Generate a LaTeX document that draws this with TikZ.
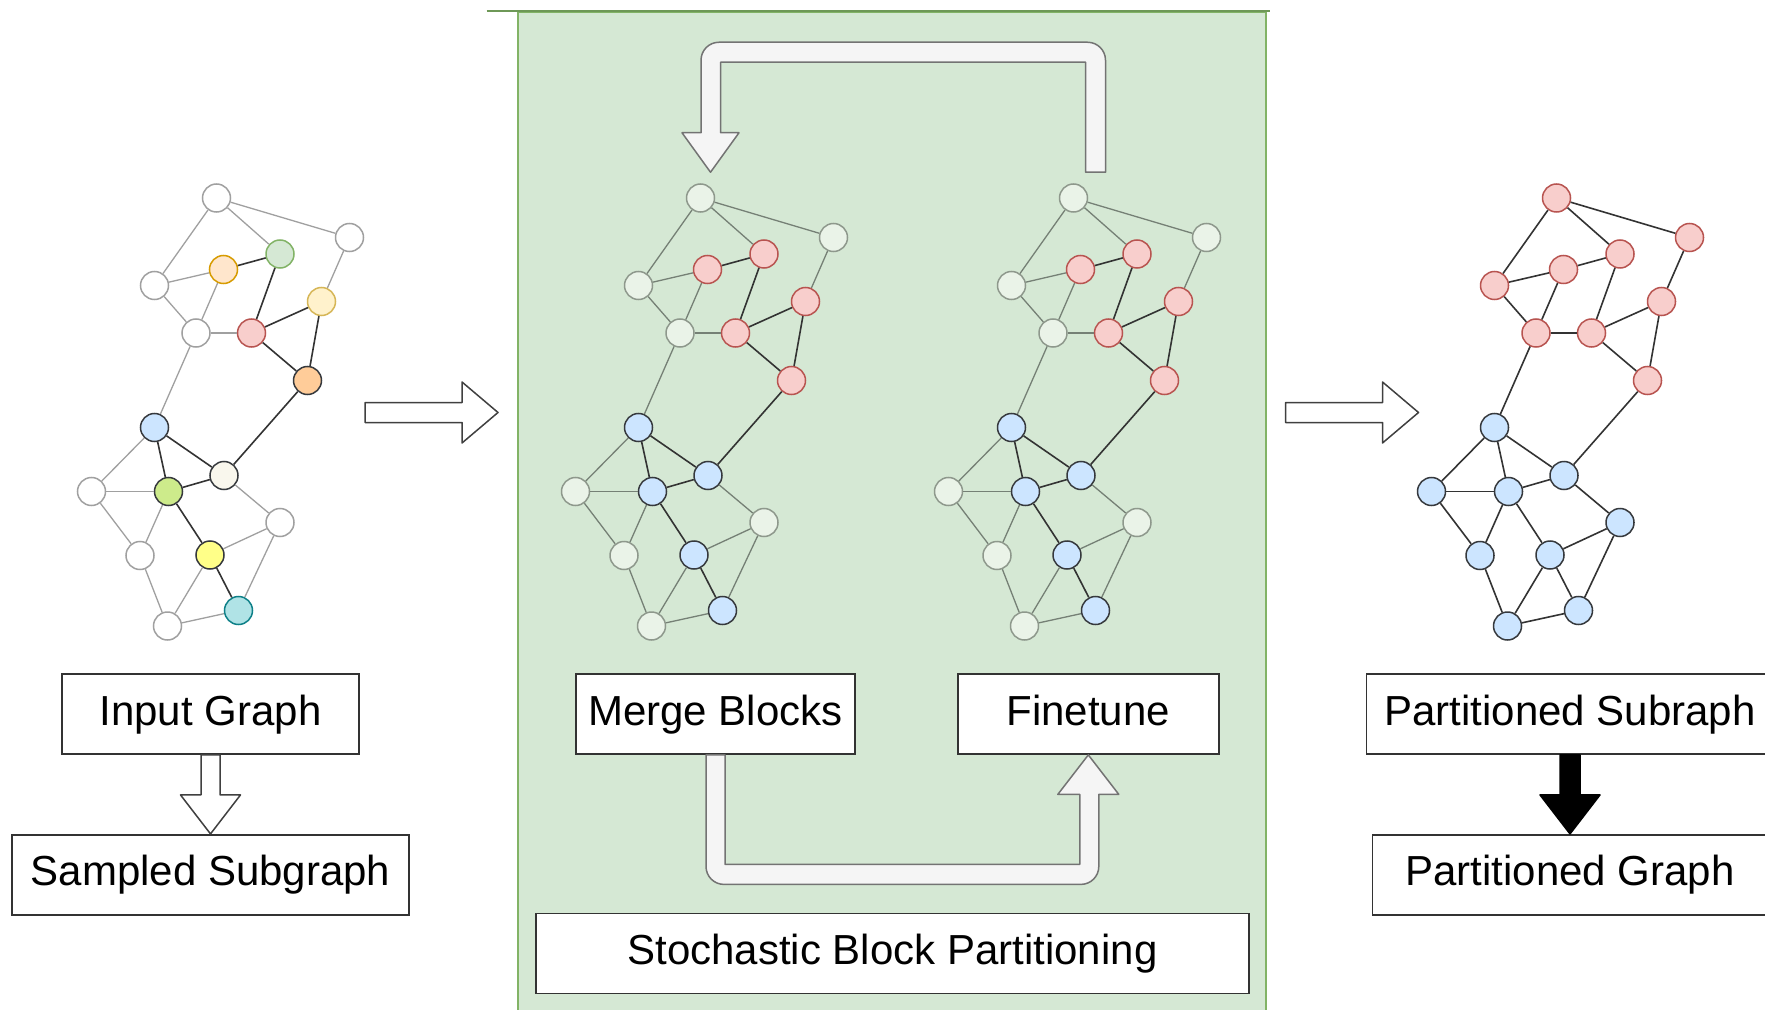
\documentclass[tikz,border=0pt]{standalone}
\usepackage{fontspec}
\setmainfont{Liberation Sans}
\usepackage{tikz}
\usetikzlibrary{arrows.meta, positioning, calc}

\definecolor{panelgreen}{HTML}{D5E8D4}
\definecolor{paneledge}{HTML}{82B366}
\definecolor{ringgray}{HTML}{A0A0A0}
\definecolor{mint}{HTML}{D5E8D4}
\definecolor{mintline}{HTML}{82B366}
\definecolor{peach}{HTML}{FFE6CC}
\definecolor{peachline}{HTML}{D79B00}
\definecolor{cream}{HTML}{FFF2CC}
\definecolor{creamline}{HTML}{D6B656}
\definecolor{apricot}{HTML}{FFCC99}
\definecolor{ivory}{HTML}{F9F7ED}
\definecolor{lime}{HTML}{CDEB8B}
\definecolor{lemon}{HTML}{FFFF88}
\definecolor{aqua}{HTML}{B0E3E6}
\definecolor{aqualine}{HTML}{0E8088}
% block colours: w = unassigned, r = upper block, b = lower block
\definecolor{fillw}{HTML}{EAF3E8}
\definecolor{linew}{HTML}{8E988C}
\definecolor{fillr}{HTML}{F8CECC}
\definecolor{liner}{HTML}{B85450}
\definecolor{fillb}{HTML}{CCE5FF}
\definecolor{lineb}{HTML}{36393D}

% name/x/y/block while merging/final block/input fill/input ring
\newcommand{\netnodes}{A/216.5/198/w/r/white/ringgray, B/349.5/237.5/w/r/white/ringgray,
  C/280/254/r/r/mint/mintline, D/223.5/269.5/r/r/peach/peachline,
  E/154.5/285.5/w/r/white/ringgray, F/321.5/301.5/r/r/cream/creamline,
  G/196/333/w/r/white/ringgray, H/251.5/333/r/r/fillr/liner,
  I/307.5/380.5/r/r/apricot/lineb, J/154.5/427.5/b/b/fillb/lineb,
  K/224/475.5/b/b/ivory/lineb, L/91.5/491.5/w/b/white/ringgray,
  M/168.5/491.5/b/b/lime/lineb, N/280/522.5/w/b/white/ringgray,
  O/140/555.5/w/b/white/ringgray, P/210/555/b/b/lemon/lineb,
  Q/238.5/610.5/b/b/aqua/aqualine, R/167.5/626/w/b/white/ringgray}
\newcommand{\lightlinks}{A/B, A/C, A/E, D/E, D/G, E/G, B/F, G/H, G/J, J/L, L/M, K/N, L/O, M/O, O/R, P/N, P/R, N/Q, R/Q}
\newcommand{\darklinks}{D/C, C/H, H/F, H/I, F/I, I/K, J/K, J/M, M/K, M/P, P/Q}

\begin{document}
\begin{tikzpicture}[
			x=0.5pt, y=-0.5pt,
			node distance=39.5pt,
			vertex/.style={circle, inner sep=0pt, minimum size=14pt, line width=0.75pt},
			stagebox/.style={rectangle, draw=black!80, fill=white, line width=0.9pt, minimum height=40pt, text height=15.5pt, text depth=4.5pt, align=center, font=\fontsize{21}{25}\selectfont},
			blockarrow/.style={draw=black!75, fill=white, line width=0.75pt, line join=round},
			looparrow/.style={draw=black!55, fill=black!4, line width=0.75pt, line join=round},
			solidarrow/.style={draw=black, fill=black, line width=0.75pt, line join=round}
		]
		\path[use as bounding box] (0,0) rectangle (1765,1010);
		\clip (0,0) rectangle (1765,1010);
		\fill[white] (0,0) rectangle (1765,1010);
		
		% Partitioning panel
		\fill[panelgreen] (518,12.5) rectangle (1266,1030);
		\draw[paneledge, line width=1pt] (518,1030) -- (518,12.5) -- (1266,12.5) -- (1266,1030);
		\draw[paneledge!85!black, line width=1pt] (486.5,11) -- (1269.5,11);
		
		% Input graph
		\begin{scope}[name prefix=in-,
				light link/.style={draw=ringgray, line width=0.65pt},
				dark link/.style={draw=black!80, line width=0.8pt}]
			\foreach \vn/\vx/\vy/\vb/\vf/\vc/\vl in \netnodes
				\node[vertex, fill=\vc, draw=\vl] (\vn) at (\vx,\vy) {};
			\foreach \a/\b in \lightlinks \draw[light link] (\a) -- (\b);
			\foreach \a/\b in \darklinks \draw[dark link] (\a) -- (\b);
		\end{scope}
		
		% Graph while merging
		\begin{scope}[shift={(484,0)}, name prefix=mrg-,
				light link/.style={draw=black!45!panelgreen, line width=0.65pt},
				dark link/.style={draw=black!80, line width=0.8pt}]
			\foreach \vn/\vx/\vy/\vb/\vf/\vc/\vl in \netnodes
				\node[vertex, fill=fill\vb, draw=line\vb] (\vn) at (\vx,\vy) {};
			\foreach \a/\b in \lightlinks \draw[light link] (\a) -- (\b);
			\foreach \a/\b in \darklinks \draw[dark link] (\a) -- (\b);
		\end{scope}
		
		% Graph while finetuning
		\begin{scope}[shift={(857,0)}, name prefix=fin-,
				light link/.style={draw=black!45!panelgreen, line width=0.65pt},
				dark link/.style={draw=black!80, line width=0.8pt}]
			\foreach \vn/\vx/\vy/\vb/\vf/\vc/\vl in \netnodes
				\node[vertex, fill=fill\vb, draw=line\vb] (\vn) at (\vx,\vy) {};
			\foreach \a/\b in \lightlinks \draw[light link] (\a) -- (\b);
			\foreach \a/\b in \darklinks \draw[dark link] (\a) -- (\b);
		\end{scope}
		
		% Partitioned graph
		\begin{scope}[shift={(1340,0)}, name prefix=out-,
				light link/.style={draw=black!80, line width=0.8pt},
				dark link/.style={draw=black!80, line width=0.8pt}]
			\foreach \vn/\vx/\vy/\vb/\vf/\vc/\vl in \netnodes
				\node[vertex, fill=fill\vf, draw=line\vf] (\vn) at (\vx,\vy) {};
			\foreach \a/\b in \lightlinks \draw[light link] (\a) -- (\b);
			\foreach \a/\b in \darklinks \draw[dark link] (\a) -- (\b);
		\end{scope}
		
		% Stage boxes
		\node[stagebox, minimum width=148.5pt] (ig) at (210.5,714) {Input Graph};
		\node[stagebox, minimum width=198.5pt, below=of ig] (sg) {Sampled Subgraph};
		\node[stagebox, minimum width=139.5pt] (mb) at (715.5,714) {Merge Blocks};
		\node[stagebox, minimum width=130.5pt, right=50.5pt of mb] (ft) {Finetune};
		\node[stagebox, minimum width=356.5pt] (sbp) at (892.5,953.5) {Stochastic Block Partitioning};
		\node[stagebox, minimum width=203.5pt] (ps) at (1570,714) {Partitioned Subraph};
		\node[stagebox, minimum width=197.5pt, below=of ps] (pg) {Partitioned Graph};
		
		% Block arrows
		\coordinate (feed tail) at (365,412.5);
		\coordinate (feed tip) at (498,412.5);
		\coordinate (out tail) at (1285.5,412.5);
		\coordinate (out tip) at (1418.5,412.5);
		\draw[blockarrow] ($(feed tail)+(0,-10)$) -- ++(97,0) -- ++(0,-20.5) -- (feed tip) -- ++(-36,30.5) -- ++(0,-20.5) -- ++(-97,0) -- cycle;
		\draw[blockarrow] ($(out tail)+(0,-10)$) -- ++(97,0) -- ++(0,-20.5) -- (out tip) -- ++(-36,30.5) -- ++(0,-20.5) -- ++(-97,0) -- cycle;
		\draw[blockarrow] ($(ig.south)+(-9.5,0)$) -- ++(0,40) -- ++(-20.5,0) -- (sg.north) -- ++(30,-39) -- ++(-20.5,0) -- ++(0,-40) -- cycle;
		\draw[solidarrow] ($(ps.south)+(-10,0)$) -- ++(0,40) -- ++(-20,0) -- (pg.north) -- ++(30,-39) -- ++(-20,0) -- ++(0,-40) -- cycle;
		
		% Merge -> Finetune
		\draw[looparrow] ($(mb.south)+(-9.5,0)$) -- ($(mb.south)+(-9.5,111.5)$)
			.. controls ($(mb.south)+(-9.5,121.5)$) and ($(mb.south)+(-1.5,129.5)$) .. ($(mb.south)+(8.5,129.5)$)
			-- ($(ft.south)+(-7.5,129.5)$)
			.. controls ($(ft.south)+(2.5,129.5)$) and ($(ft.south)+(10.5,121.5)$) .. ($(ft.south)+(10.5,111.5)$)
			-- ($(ft.south)+(10.5,39.5)$) -- ($(ft.south)+(30.5,39.5)$) -- (ft.south)
			-- ($(ft.south)+(-30.5,39.5)$) -- ($(ft.south)+(-8.5,39.5)$)
			-- ($(ft.south)+(-8.5,109.5)$) -- ($(mb.south)+(9.5,109.5)$)
			-- ($(mb.south)+(9.5,0)$) -- cycle;
		
		% Finetune -> Merge (repeat)
		\coordinate (loop tip) at ($(mrg-A.north)+(10,-11)$);
		\coordinate (loop tail) at ($(fin-A.north)+(22,-11)$);
		\draw[looparrow] ($(loop tail)+(-10,0)$) -- ($(loop tail)+(-10,-110)$)
			-- ($(loop tip)+(10,-110)$) -- ($(loop tip)+(10,-39.5)$)
			-- ($(loop tip)+(28.5,-39.5)$) -- (loop tip) -- ($(loop tip)+(-28.5,-39.5)$)
			-- ($(loop tip)+(-9.5,-39.5)$) -- ($(loop tip)+(-9.5,-112)$)
			.. controls ($(loop tip)+(-9.5,-122)$) and ($(loop tip)+(-1.5,-130)$) .. ($(loop tip)+(8.5,-130)$)
			-- ($(loop tail)+(-8,-130)$)
			.. controls ($(loop tail)+(2,-130)$) and ($(loop tail)+(10,-122)$) .. ($(loop tail)+(10,-112)$)
			-- ($(loop tail)+(10,0)$) -- cycle;
		\end{tikzpicture}
\end{document}
